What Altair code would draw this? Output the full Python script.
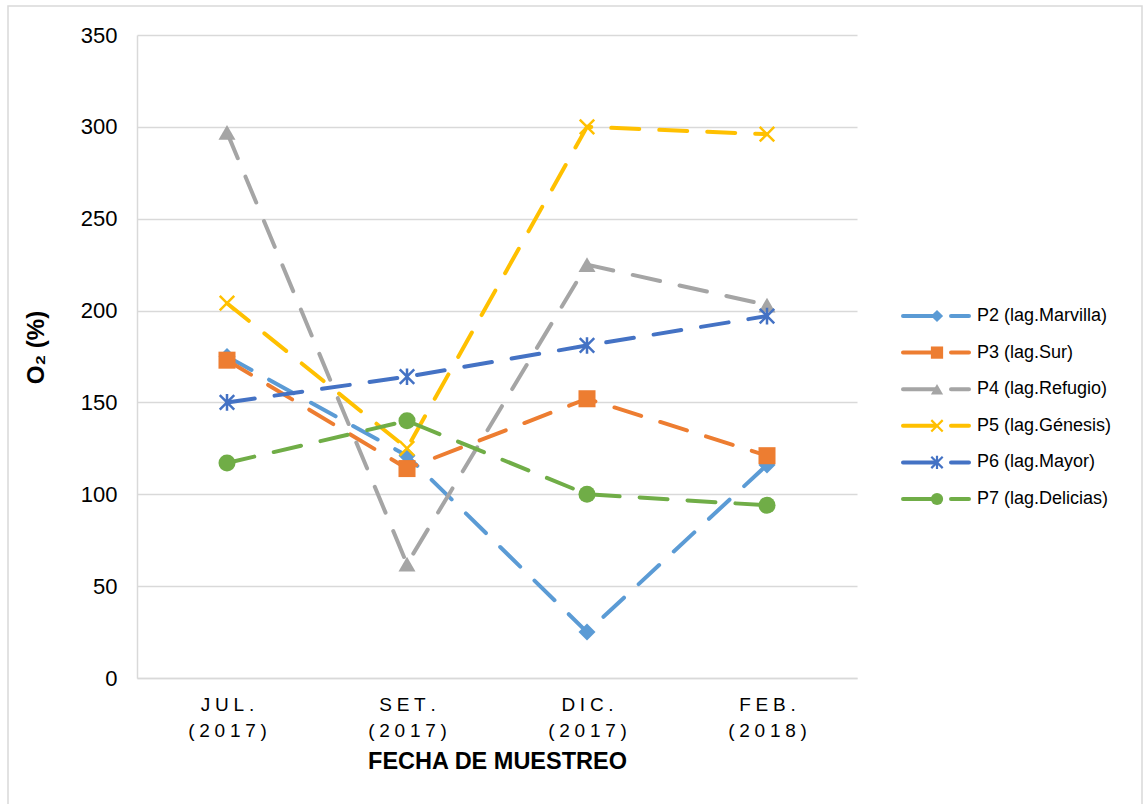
import altair as alt
import pandas as pd

# Sampling dates (month / year) and lagoon series
months = ["JUL.", "SET.", "DIC.", "FEB."]
years = ["(2017)", "(2017)", "(2017)", "(2018)"]
series = [
    "P2 (lag.Marvilla)",
    "P3 (lag.Sur)",
    "P4 (lag.Refugio)",
    "P5 (lag.Génesis)",
    "P6 (lag.Mayor)",
    "P7 (lag.Delicias)",
]
colors = ["#5B9BD5", "#ED7D31", "#A5A5A5", "#FFC000", "#4472C4", "#70AD47"]

# Dissolved oxygen saturation, O2 (%)
p2 = [175, 121, 25, 116]
p3 = [173, 114, 152, 121]
p4 = [297, 62, 225, 203]
p5 = [204, 125, 300, 296]
p6 = [150, 164, 181, 197]
p7 = [117, 140, 100, 94]
values = [p2, p3, p4, p5, p6, p7]

# Excel-like markers: x cross and asterisk are drawn as stroked paths
X_PATH = "M-1,-1L1,1M-1,1L1,-1"
STAR_PATH = "M-1,-1L1,1M-1,1L1,-1M0,-1.15L0,1.15"
shapes = ["diamond", "square", "triangle-up", X_PATH, STAR_PATH, "circle"]
stroked = {series[3], series[4]}

SP = "\u2005"  # letter spacing for the date labels


def spaced(s):
    return SP.join(s)


dates = [spaced(m) + "\n" + spaced(y) for m, y in zip(months, years)]

rows = []
for s, vals in zip(series, values):
    for d, v in zip(dates, vals):
        rows.append({"serie": s, "fecha": d, "valor": v})
df = pd.DataFrame(rows)
df_fill = df[~df["serie"].isin(stroked)]
df_line = df[df["serie"].isin(stroked)]

leg = pd.DataFrame({"serie": series, "fila": list(range(len(series)))})
leg_fill = leg[~leg["serie"].isin(stroked)]
leg_line = leg[leg["serie"].isin(stroked)]

FONT = "Liberation Sans"
GRID = "#d9d9d9"

color = alt.Color("serie:N", scale=alt.Scale(domain=series, range=colors), legend=None)
shape = alt.Shape("serie:N", scale=alt.Scale(domain=series, range=shapes), legend=None)

x_enc = alt.X(
    "fecha:N",
    sort=dates,
    scale=alt.Scale(type="point", padding=0.5),
    axis=alt.Axis(
        title="FECHA DE MUESTREO",
        labelExpr="split(datum.label, '\\n')",
        labelAngle=0,
        labelFont=FONT,
        labelFontSize=19,
        labelColor="black",
        labelLineHeight=26,
        labelBaseline="top",
        labelPadding=17,
        ticks=False,
        tickSize=0,
        domainColor=GRID,
        domainWidth=1.5,
        titleFont=FONT,
        titleFontWeight="bold",
        titleFontSize=23.5,
        titleColor="black",
        titleBaseline="alphabetic",
        titleY=90,
    ),
)

y_enc = alt.Y(
    "valor:Q",
    scale=alt.Scale(domain=[0, 350], nice=False),
    axis=alt.Axis(
        title="O₂ (%)",
        values=[0, 50, 100, 150, 200, 250, 300, 350],
        labelFont=FONT,
        labelFontSize=22,
        labelColor="black",
        labelPadding=20,
        ticks=False,
        tickSize=0,
        domainColor=GRID,
        domainWidth=1.5,
        grid=True,
        gridColor=GRID,
        gridWidth=1.5,
        titleFont=FONT,
        titleFontWeight="bold",
        titleFontSize=24,
        titleColor="black",
        titleAngle=-90,
        titleBaseline="alphabetic",
        titleX=-94,
        titleY=312,
    ),
)
x_plain = alt.X("fecha:N", sort=dates)
y_plain = alt.Y("valor:Q")

lines = alt.Chart(df).mark_line(
    strokeWidth=4, strokeDash=[28, 20], strokeCap="round", strokeJoin="round"
).encode(x=x_enc, y=y_enc, color=color)

pts_fill = alt.Chart(df_fill).mark_point(filled=True, size=290, opacity=1).encode(
    x=x_plain, y=y_plain, color=color, shape=shape
)
pts_line = alt.Chart(df_line).mark_point(
    filled=False, size=210, opacity=1, strokeWidth=2.5
).encode(x=x_plain, y=y_plain, color=color, shape=shape)

main = alt.layer(lines, pts_fill, pts_line)

# Legend drawn beside the plot, one row per series
y_leg = alt.Y("fila:Q", scale=alt.Scale(domain=[0, 5], range=[281, 464]), axis=None)
leg_rule = alt.Chart(leg).mark_rule(
    strokeWidth=4, strokeDash=[32, 16], strokeCap="round"
).encode(x=alt.value(766), x2=alt.value(832), y=y_leg, color=color)
leg_pf = alt.Chart(leg_fill).mark_point(filled=True, size=150, opacity=1).encode(
    x=alt.value(800), y=y_leg, color=color, shape=shape
)
leg_pl = alt.Chart(leg_line).mark_point(
    filled=False, size=130, opacity=1, strokeWidth=2.2
).encode(x=alt.value(800), y=y_leg, color=color, shape=shape)
leg_txt = alt.Chart(leg).mark_text(
    align="left", baseline="middle", font=FONT, fontSize=18, color="black"
).encode(x=alt.value(840), y=y_leg, text="serie:N")
legend = alt.layer(leg_rule, leg_pf, leg_pl, leg_txt)

# Outer frame of the figure
frame = alt.Chart(pd.DataFrame({"k": [0]})).mark_rect(
    fillOpacity=0, stroke=GRID, strokeWidth=1.5
).encode(x=alt.value(-129), x2=alt.value(1005), y=alt.value(-29), y2=alt.value(778))

chart = (
    alt.layer(frame, main, legend)
    .resolve_scale(y="independent")
    .properties(
        width=720,
        height=643,
        padding={"left": 137, "top": 35, "right": 288, "bottom": 126},
        autosize=alt.AutoSizeParams(type="none"),
        background="white",
    )
    .configure_view(stroke=None)
)

chart.save("out.html", embed_options={"renderer": "svg", "actions": False})
